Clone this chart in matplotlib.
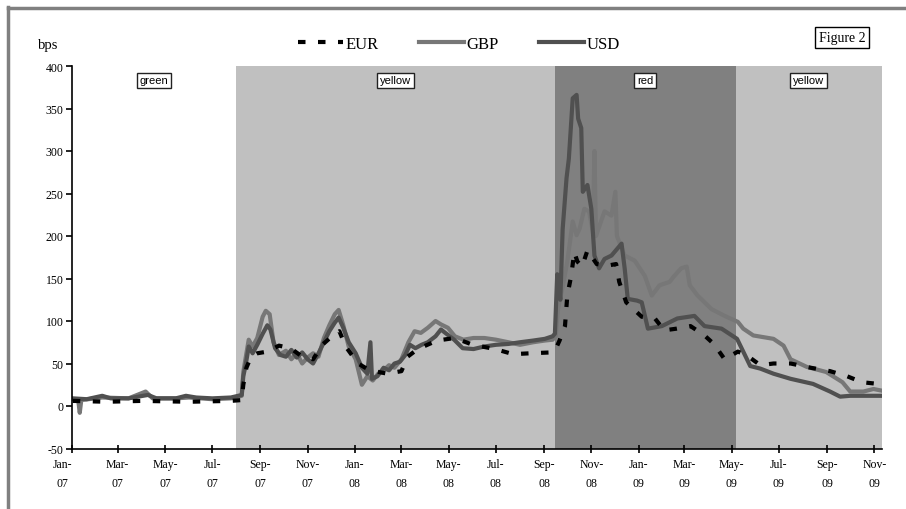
import matplotlib
matplotlib.use('Agg')
import matplotlib.pyplot as plt
from matplotlib.lines import Line2D
import pandas as pd

plt.rcParams['font.family'] = ['Liberation Serif', 'DejaVu Serif']

# ---------------- data (bps) ----------------
usd_dates = ['2007-01-02', '2007-01-20', '2007-02-09', '2007-02-20', '2007-03-15', '2007-04-09', '2007-04-20',
             '2007-05-15', '2007-05-28', '2007-06-10', '2007-07-01', '2007-07-25', '2007-08-08', '2007-08-10',
             '2007-08-13', '2007-08-17', '2007-08-22', '2007-08-28', '2007-09-04', '2007-09-10', '2007-09-14',
             '2007-09-20', '2007-09-27', '2007-10-04', '2007-10-11', '2007-10-18', '2007-10-25', '2007-11-01',
             '2007-11-08', '2007-11-15', '2007-11-22', '2007-11-29', '2007-12-06', '2007-12-11', '2007-12-17',
             '2007-12-24', '2008-01-02', '2008-01-10', '2008-01-17', '2008-01-21', '2008-01-23', '2008-01-30',
             '2008-02-07', '2008-02-14', '2008-02-21', '2008-02-28', '2008-03-06', '2008-03-12', '2008-03-19',
             '2008-03-27', '2008-04-04', '2008-04-14', '2008-04-21', '2008-04-28', '2008-05-08', '2008-05-19',
             '2008-06-02', '2008-06-16', '2008-07-01', '2008-07-17', '2008-08-01', '2008-08-18', '2008-09-02',
             '2008-09-12', '2008-09-15', '2008-09-18', '2008-09-22', '2008-09-25', '2008-09-30', '2008-10-03',
             '2008-10-08', '2008-10-13', '2008-10-15', '2008-10-19', '2008-10-21', '2008-10-27', '2008-11-01',
             '2008-11-05', '2008-11-11', '2008-11-18', '2008-11-27', '2008-12-10', '2008-12-14', '2008-12-18',
             '2008-12-30', '2009-01-05', '2009-01-13', '2009-01-31', '2009-02-20', '2009-03-14', '2009-03-27',
             '2009-04-18', '2009-05-08', '2009-05-16', '2009-05-25', '2009-06-07', '2009-06-24', '2009-07-16',
             '2009-08-14', '2009-09-05', '2009-09-18', '2009-10-01', '2009-11-11']
usd_vals = [9, 8, 12, 9, 9, 13, 9,
            9, 12, 10, 9, 10, 13, 35,
            48, 70, 62, 72, 85, 95, 90,
            68, 60, 58, 66, 57, 63, 55,
            50, 62, 75, 88, 98, 104, 92,
            75, 62, 45, 38, 75, 32, 35,
            45, 42, 50, 52, 60, 72, 68,
            72, 75, 82, 90, 85, 78, 68,
            67, 70, 72, 73, 75, 77, 79,
            82, 85, 155, 125, 208, 268, 291,
            362, 366, 338, 327, 252, 260, 232,
            177, 162, 173, 177, 191, 162, 126,
            124, 122, 91, 94, 103, 106, 94,
            91, 79, 64, 47, 44, 38, 32,
            26, 17, 11, 12, 12]

gbp_dates = ['2007-01-02', '2007-01-09', '2007-01-11', '2007-01-13', '2007-02-09', '2007-03-15', '2007-04-06',
             '2007-04-15', '2007-05-15', '2007-06-01', '2007-07-01', '2007-07-25', '2007-08-08', '2007-08-10',
             '2007-08-14', '2007-08-17', '2007-08-22', '2007-08-28', '2007-09-04', '2007-09-08', '2007-09-13',
             '2007-09-18', '2007-09-25', '2007-10-04', '2007-10-11', '2007-10-18', '2007-10-25', '2007-11-01',
             '2007-11-08', '2007-11-15', '2007-11-22', '2007-11-29', '2007-12-06', '2007-12-11', '2007-12-17',
             '2007-12-24', '2008-01-02', '2008-01-10', '2008-01-17', '2008-01-24', '2008-01-31', '2008-02-07',
             '2008-02-14', '2008-02-21', '2008-03-01', '2008-03-10', '2008-03-18', '2008-03-26', '2008-04-04',
             '2008-04-14', '2008-04-21', '2008-04-30', '2008-05-09', '2008-05-20', '2008-06-02', '2008-06-16',
             '2008-07-01', '2008-07-17', '2008-08-01', '2008-08-18', '2008-09-02', '2008-09-12', '2008-09-16',
             '2008-09-19', '2008-09-25', '2008-10-01', '2008-10-08', '2008-10-13', '2008-10-17', '2008-10-23',
             '2008-10-29', '2008-11-03', '2008-11-05', '2008-11-07', '2008-11-18', '2008-11-27', '2008-12-02',
             '2008-12-04', '2008-12-14', '2008-12-27', '2009-01-09', '2009-01-18', '2009-01-28', '2009-02-10',
             '2009-02-16', '2009-02-25', '2009-03-04', '2009-03-08', '2009-03-18', '2009-04-05', '2009-04-22',
             '2009-05-09', '2009-05-16', '2009-05-29', '2009-06-24', '2009-07-07', '2009-07-16', '2009-08-06',
             '2009-08-31', '2009-09-21', '2009-10-01', '2009-10-18', '2009-10-31', '2009-11-11']
gbp_vals = [8, 7, -8, 7, 10, 9, 17,
            9, 9, 10, 8, 9, 12, 40,
            62, 78, 70, 80, 105, 112, 108,
            75, 60, 65, 55, 62, 50, 57,
            62, 58, 80, 95, 108, 113, 95,
            70, 55, 25, 35, 30, 38, 42,
            48, 45, 55, 75, 88, 86, 92,
            100, 96, 92, 82, 78, 80, 80,
            78, 75, 72, 75, 77, 78, 82,
            114, 140, 170, 217, 201, 209, 232,
            229, 205, 300, 200, 229, 224, 252,
            200, 177, 171, 153, 130, 142, 146,
            153, 162, 164, 142, 130, 114, 106,
            99, 91, 83, 79, 71, 55, 46,
            40, 28, 17, 17, 20, 18]

eur_dates = ['2007-01-02', '2007-02-15', '2007-04-01', '2007-06-01', '2007-07-25', '2007-08-08', '2007-08-10',
             '2007-08-14', '2007-08-20', '2007-08-28', '2007-09-10', '2007-09-25', '2007-10-10', '2007-10-25',
             '2007-11-08', '2007-11-20', '2007-12-06', '2007-12-12', '2007-12-20', '2008-01-05', '2008-01-20',
             '2008-02-12', '2008-03-01', '2008-03-09', '2008-03-22', '2008-04-16', '2008-05-09', '2008-06-01',
             '2008-06-30', '2008-07-23', '2008-08-14', '2008-09-09', '2008-09-15', '2008-09-21', '2008-09-28',
             '2008-10-01', '2008-10-06', '2008-10-10', '2008-10-14', '2008-10-20', '2008-10-27', '2008-11-08',
             '2008-11-21', '2008-12-03', '2008-12-07', '2008-12-16', '2009-01-05', '2009-01-22', '2009-02-03',
             '2009-02-19', '2009-03-09', '2009-03-27', '2009-04-08', '2009-04-22', '2009-05-09', '2009-05-20',
             '2009-06-07', '2009-06-24', '2009-07-16', '2009-08-11', '2009-09-05', '2009-09-27', '2009-10-16',
             '2009-11-06', '2009-11-11']
eur_vals = [6, 5, 6, 5, 6, 7, 25,
            45, 58, 62, 64, 71, 68, 58,
            55, 72, 85, 88, 70, 50, 42,
            38, 41, 58, 67, 77, 80, 72,
            67, 61, 62, 63, 65, 77, 94,
            130, 153, 181, 170, 164, 183, 167,
            165, 167, 146, 122, 105, 103, 89,
            91, 94, 83, 73, 55, 64, 60,
            48, 50, 50, 45, 41, 35, 28,
            26, 28]

band_edges = ['2007-01-01', '2007-07-31', '2008-09-15', '2009-05-06', '2009-11-11']
band_labels = ['green', 'yellow', 'red', 'yellow']
band_colors = ['#ffffff', '#c0c0c0', '#808080', '#c0c0c0']

series_names = ['EUR', 'GBP', 'USD']
y_ticks = [-50, 0, 50, 100, 150, 200, 250, 300, 350, 400]

# ---------------- figure ----------------
W, H = 906, 510
fig = plt.figure(figsize=(W / 100, H / 100), dpi=100)
ax = fig.add_axes([72 / W, 1 - 449.5 / H, (882 - 72) / W, (449.5 - 67) / H])

edges = pd.to_datetime(band_edges)
for i, lab in enumerate(band_labels):
    ax.axvspan(edges[i], edges[i + 1], color=band_colors[i], lw=0, zorder=0)
    mid = edges[i] + (edges[i + 1] - edges[i]) / 2
    ax.text(mid, 383, lab, ha='center', va='center', fontsize=8,
            family=['Liberation Sans', 'DejaVu Sans'], zorder=7,
            bbox=dict(boxstyle='square,pad=0.25', fc='white', ec='#222222', lw=1))

LW = 3.0
ax.plot(pd.to_datetime(gbp_dates), gbp_vals, color='#777777', lw=LW, zorder=3,
        solid_joinstyle='round', label='GBP')
ax.plot(pd.to_datetime(usd_dates), usd_vals, color='#505050', lw=LW, zorder=4,
        solid_joinstyle='round', label='USD')
ax.plot(pd.to_datetime(eur_dates), eur_vals, color='black', lw=LW, zorder=5,
        linestyle=(0, (1.8, 3.0)), label='EUR')

ax.set_xlim(edges[0], edges[-1])
ax.set_ylim(-50, 400)
ax.set_yticks(y_ticks)
ax.set_yticklabels([str(v) for v in y_ticks], fontsize=8.5)

x_ticks = pd.date_range('2007-01-01', '2009-11-01', freq='2MS')
ax.set_xticks(x_ticks)
ax.set_xticklabels([d.strftime('%b-\n%y') for d in x_ticks], fontsize=8.5, linespacing=1.75)
# first label sits a little left of the y-axis, as in the reference
first = ax.get_xticklabels()[0]
first.set_horizontalalignment('right')
first.set_multialignment('center')

for s in ['top', 'right']:
    ax.spines[s].set_visible(False)
for s in ['left', 'bottom']:
    ax.spines[s].set_linewidth(1.2)
    ax.spines[s].set_color('black')
    ax.spines[s].set_zorder(6)
ax.tick_params(axis='y', direction='out', length=4, width=1.2, pad=2)
ax.tick_params(axis='x', direction='inout', length=6, width=1.2, pad=4)

# legend
h = ax.get_legend_handles_labels()
hd = dict(zip(h[1], h[0]))
leg = fig.legend([hd[n] for n in series_names], series_names, loc='center',
                 bbox_to_anchor=(459 / W, 1 - 45 / H), ncol=3, frameon=False,
                 fontsize=12, handlelength=2.7, handletextpad=0.15, columnspacing=2.4)

fig.text(48 / W, 1 - 45 / H, 'bps', ha='center', va='center', fontsize=10.5)
fig.text(842 / W, 1 - 38.5 / H, 'Figure 2', ha='center', va='center', fontsize=10,
         bbox=dict(boxstyle='square,pad=0.3', fc='white', ec='black', lw=1))

# frame lines
fig.add_artist(Line2D([8 / W, 8 / W], [0, 1 - 8 / H], color='#808080', lw=2.5,
                      transform=fig.transFigure))
fig.add_artist(Line2D([8 / W, 1], [1 - 9 / H, 1 - 9 / H], color='#808080', lw=2.5,
                      transform=fig.transFigure))

fig.savefig('out.png', dpi=100)
